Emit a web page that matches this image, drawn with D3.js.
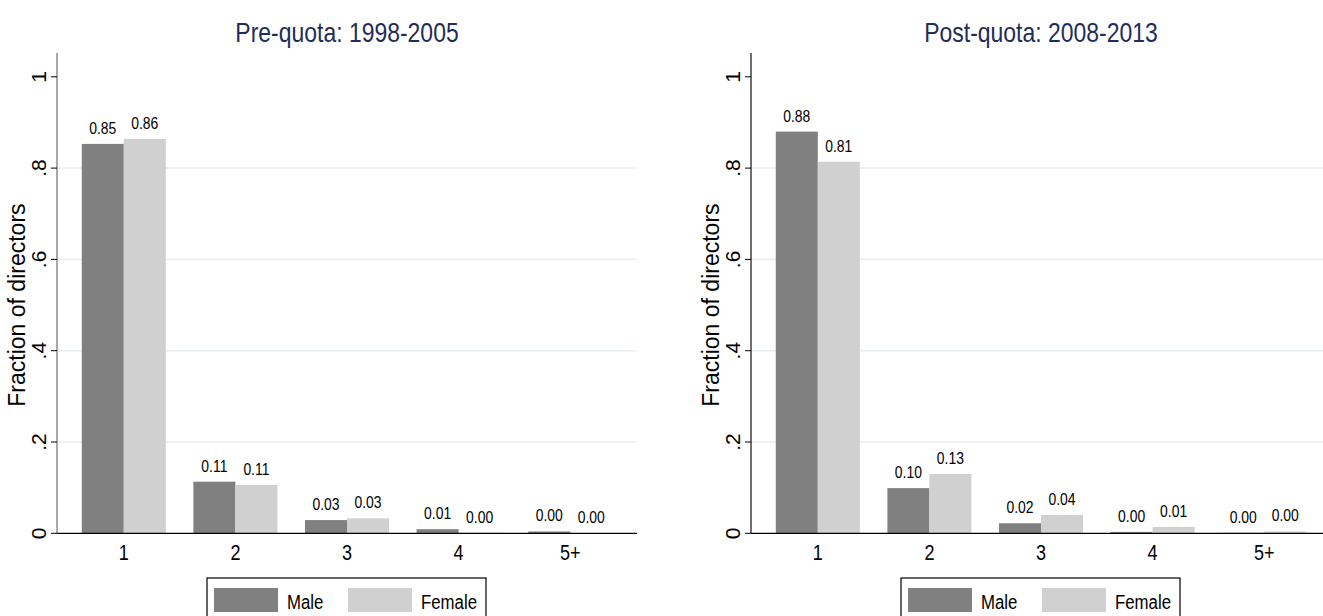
<!DOCTYPE html>
<html>
<head>
<meta charset="utf-8">
<script src="https://cdn.jsdelivr.net/npm/d3@7"></script>
<style>
  html, body { margin: 0; padding: 0; background: #fff; }
  svg { display: block; }
  text { font-family: "Liberation Sans", Arial, Helvetica, sans-serif; }
</style>
</head>
<body>
<svg id="chart" width="1323" height="616"></svg>
<script>
// ---- data ----
const categories = ["1", "2", "3", "4", "5+"];
const seriesNames = ["Male", "Female"];
const preMale   = [0.853, 0.113, 0.029, 0.009, 0.004];
const preFemale = [0.864, 0.106, 0.033, 0.001, 0.0005];
const postMale   = [0.880, 0.099, 0.022, 0.003, 0.001];
const postFemale = [0.814, 0.130, 0.040, 0.014, 0.004];
const yTicks = [0, 0.2, 0.4, 0.6, 0.8, 1];
const yTickLabels = ["0", ".2", ".4", ".6", ".8", "1"];
const titles = ["Pre-quota: 1998-2005", "Post-quota: 2008-2013"];
const yTitle = "Fraction of directors";

// ---- style ----
const colors = { Male: "#808080", Female: "#d0d0d0" };
const titleColor = "#1f2d5a";
const gridColor = "#e6eef1";
const NARROW = 0.82;

const svg = d3.select("#chart");

function narrowText(parent, x, y, str, size, anchor, fill, k) {
  const g = parent.append("g").attr("transform", `translate(${x},${y}) scale(${k || NARROW},1)`);
  g.append("text")
    .attr("x", 0).attr("y", 0)
    .attr("text-anchor", anchor)
    .attr("font-size", size)
    .attr("fill", fill || "#000")
    .text(str);
  return g;
}

function drawPanel(x0, title, male, female, axisColor) {
  const width = 580;
  const x1 = x0 + width;
  const y = d3.scaleLinear().domain([0, 1]).range([533.3, 76.8]);
  const x = d3.scaleBand().domain(categories).range([x0, x1])
    .paddingInner(0.247).paddingOuter(0.222);
  const xs = d3.scaleBand().domain(seriesNames).range([0, x.bandwidth()]).padding(0);
  const g = svg.append("g");

  // grid
  g.selectAll("line.grid").data(yTicks.filter(t => t > 0 && t < 1)).enter()
    .append("line")
    .attr("x1", x0).attr("x2", x1)
    .attr("y1", d => y(d)).attr("y2", d => y(d))
    .attr("stroke", gridColor).attr("stroke-width", 1.5);

  // bars
  const rows = categories.map((c, i) => ({ cat: c, Male: male[i], Female: female[i] }));
  seriesNames.forEach(s => {
    g.selectAll(null).data(rows).enter()
      .append("rect")
      .attr("x", d => x(d.cat) + xs(s))
      .attr("width", xs.bandwidth())
      .attr("y", d => y(d[s]))
      .attr("height", d => y(0) - y(d[s]))
      .attr("fill", colors[s]);
    rows.forEach(d => {
      narrowText(g, x(d.cat) + xs(s) + xs.bandwidth() / 2, y(d[s]) - 10,
        d3.format(".2f")(d[s]), 17, "middle", "#000");
    });
  });

  // x axis line
  g.append("line").attr("x1", x0).attr("x2", x1)
    .attr("y1", y(0)).attr("y2", y(0)).attr("stroke", "#000").attr("stroke-width", 1.2);
  categories.forEach(c => {
    narrowText(g, x(c) + x.bandwidth() / 2, 560, c, 22, "middle", "#000");
  });

  // y axis
  const yAxisG = g.append("g").attr("transform", `translate(${x0},0)`);
  yAxisG.append("line").attr("x1", 0).attr("x2", 0)
    .attr("y1", 53).attr("y2", y(0)).attr("stroke", axisColor).attr("stroke-width", 1.3);
  yTicks.forEach((t, i) => {
    yAxisG.append("line").attr("x1", -6).attr("x2", 0)
      .attr("y1", y(t)).attr("y2", y(t)).attr("stroke", "#000").attr("stroke-width", 1);
    yAxisG.append("text")
      .attr("transform", `translate(-11,${y(t)}) rotate(-90)`)
      .attr("text-anchor", "middle")
      .attr("font-size", 21)
      .text(yTickLabels[i]);
  });
  yAxisG.append("text")
    .attr("transform", `translate(-32,${(y(0) + y(1)) / 2}) rotate(-90)`)
    .attr("text-anchor", "middle")
    .attr("font-size", 23)
    .text(yTitle);

  // title
  narrowText(g, (x0 + x1) / 2, 42, title, 28, "middle", titleColor);

  // legend
  const cx = (x0 + x1) / 2;
  const lg = g.append("g").attr("transform", `translate(${cx - 140},578)`);
  lg.append("rect").attr("x", 0).attr("y", 0).attr("width", 279).attr("height", 50)
    .attr("fill", "#fff").attr("stroke", "#000").attr("stroke-width", 1.2);
  const legendOffsets = { Male: 7, Female: 141 };
  seriesNames.forEach(s => {
    const ox = legendOffsets[s];
    lg.append("rect").attr("x", ox).attr("y", 10).attr("width", 64).attr("height", 24)
      .attr("fill", colors[s]);
    narrowText(lg, ox + 73, 31, s, 21, "start", "#000", 0.8);
  });
}

drawPanel(57, titles[0], preMale, preFemale, "#7a7a7a");
drawPanel(751, titles[1], postMale, postFemale, "#222");
</script>
</body>
</html>
